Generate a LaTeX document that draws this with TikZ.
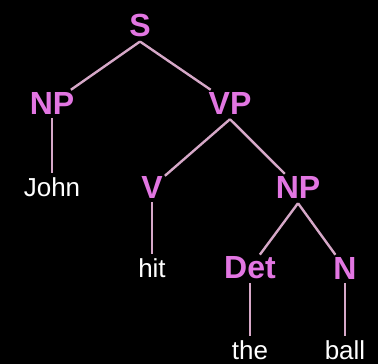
\documentclass[tikz,border=0pt]{standalone}
\usepackage{fontspec}
\setmainfont{Liberation Sans}
\usepackage{xcolor}
\usetikzlibrary{positioning}

\definecolor{catpink}{RGB}{226,118,226}
\definecolor{edgepink}{RGB}{214,168,200}

\begin{document}
\begin{tikzpicture}[x=1pt, y=-1pt,
  cat/.style={text=catpink, font=\fontsize{32}{34}\selectfont\bfseries, inner sep=2pt},
  word/.style={text=white, font=\fontsize{26}{28}\selectfont, inner sep=2pt},
  edge/.style={draw=edgepink, line width=2.4pt}]

% Background
\fill[black] (0,0) rectangle (378,364);
\useasboundingbox (0,0) rectangle (378,364);

% Categories
\node[cat] (s)   at (140,25)  {S};
\node[cat] (np1) at (52,103)  {NP};
\node[cat] (vp)  at (230,103) {VP};
\node[cat] (v)   at (152,187) {V};
\node[cat] (np2) at (298,187) {NP};
\node[cat] (det) at (250,268) {Det};
\node[cat] (n)   at (345,268) {N};

% Words
\node[word] (john) at (52,187)  {John};
\node[word] (hit)  at (152,268) {hit};
\node[word] (the)  at (250,350) {the};
\node[word] (ball) at (345,350) {ball};

% Branches
\draw[edge] ([yshift=-3pt]s.south) -- (np1);
\draw[edge] ([yshift=-3pt]s.south) -- (vp);
\draw[edge] ([yshift=-3pt]vp.south) -- (v);
\draw[edge] ([yshift=-3pt]vp.south) -- (np2);
\draw[edge] ([yshift=-3pt]np2.south) -- (det);
\draw[edge] ([yshift=-3pt]np2.south) -- (n);

% Lexical links
\draw[edge] ([yshift=-2pt]np1.south) -- ([yshift=2pt]john.north);
\draw[edge] ([yshift=-2pt]v.south) -- ([yshift=2pt]hit.north);
\draw[edge] ([yshift=-2pt]det.south) -- ([yshift=2pt]the.north);
\draw[edge] ([yshift=-2pt]n.south) -- ([yshift=2pt]ball.north);

\end{tikzpicture}
\end{document}
